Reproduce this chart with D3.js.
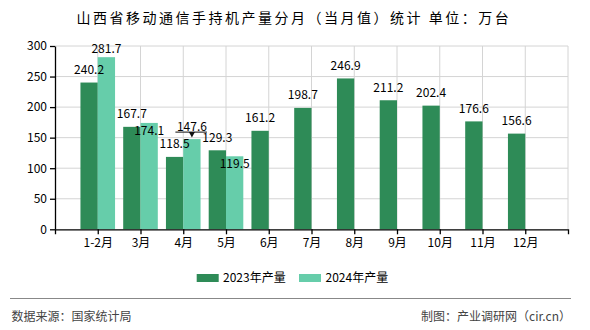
<!DOCTYPE html>
<html><head><meta charset="utf-8">
<script src="https://cdn.jsdelivr.net/npm/d3@7/dist/d3.min.js"></script>
<style>
html,body{margin:0;padding:0;background:#fff;}
svg{display:block;}
text{font-family:"Noto Sans CJK SC","Noto Sans",sans-serif;}
</style></head>
<body>
<svg id="c" width="590" height="330"></svg>
<script>
const title = "山西省移动通信手持机产量分月（当月值）统计 单位：万台";
const categories = ["1-2月","3月","4月","5月","6月","7月","8月","9月","10月","11月","12月"];
const seriesNames = ["2023年产量","2024年产量"];
const values2023 = [240.2,167.7,118.5,129.3,161.2,198.7,246.9,211.2,202.4,176.6,156.6];
const values2024 = [281.7,174.1,147.6,119.5];
const yTicks = [0,50,100,150,200,250,300];
const colors = ["#2E8B57","#66CDAA"];
const sourceText = "数据来源：国家统计局";
const creditText = "制图：产业调研网（cir.cn）";

const svg = d3.select("#c");
const L = 55, R = 568, T = 46, B = 229.3;
const barW = 17.3;

const x = d3.scalePoint().domain(categories).range([L, R]).padding(1);
const y = d3.scaleLinear().domain([0, 300]).range([B, T]);

// title
svg.append("text").attr("x", 76.5).attr("y", 22.5)
  .attr("font-size", 14).attr("letter-spacing", "2.5px").attr("fill", "#000")
  .text(title);

// grid
const g = svg.append("g");
g.selectAll("line.h").data(yTicks.filter(d => d > 0)).join("line")
  .attr("x1", L).attr("x2", R).attr("y1", d => y(d)).attr("y2", d => y(d))
  .attr("stroke", "#d4d4d4").attr("stroke-width", 1);
g.selectAll("line.v").data(categories.map(c => x(c)).concat([R])).join("line")
  .attr("x1", d => d).attr("x2", d => d).attr("y1", T).attr("y2", B)
  .attr("stroke", "#d4d4d4").attr("stroke-width", 1);

// bars
const series = [values2023, values2024];
series.forEach((vals, s) => {
  svg.append("g").selectAll("rect").data(vals).join("rect")
    .attr("x", (d, i) => x(categories[i]) + (s === 0 ? -barW : 0))
    .attr("width", barW)
    .attr("y", d => y(d))
    .attr("height", d => B - y(d))
    .attr("fill", colors[s]);
});

// axes
const yAxis = svg.append("g").attr("transform", `translate(${L},0)`)
  .call(d3.axisLeft(y).tickValues(yTicks).tickSize(5).tickSizeOuter(0).tickPadding(3));
const xAxis = svg.append("g").attr("transform", `translate(0,${B})`)
  .call(d3.axisBottom(x).tickSize(5).tickSizeOuter(5).tickPadding(4));
[yAxis, xAxis].forEach(a => {
  a.selectAll("path,line").attr("stroke", "#000").attr("stroke-width", 1.3);
  a.selectAll("text").attr("font-size", 12).attr("fill", "#000")
    .attr("font-family", '"Noto Sans CJK SC",sans-serif');
});

// value labels (offset: baseline relative to bar top)
function labelOffset(s, i) {
  if (s === 1 && i === 0) return -4.5;   // clamped near top of plot
  if (s === 1 && (i === 1 || i === 3)) return 12; // pushed inside bar
  return -8.5;
}
series.forEach((vals, s) => {
  svg.append("g").selectAll("text").data(vals).join("text")
    .attr("x", (d, i) => x(categories[i]) + (s === 0 ? -barW / 2 : barW / 2))
    .attr("y", (d, i) => y(d) + labelOffset(s, i))
    .attr("text-anchor", "middle").attr("font-size", 12).attr("fill", "#000")
    .text(d => d.toFixed(1));
});

// leader marker for 4月 2024 label
{
  const cx = x(categories[2]) + barW / 2;
  const top = y(values2024[2]);
  svg.append("line").attr("x1", cx - 16.5).attr("x2", cx + 15)
    .attr("y1", top - 7).attr("y2", top - 7).attr("stroke", "#333").attr("stroke-width", 1.2);
  svg.append("path")
    .attr("d", `M${cx - 3},${top - 7}L${cx + 3},${top - 7}L${cx},${top - 1.5}Z`)
    .attr("fill", "#111");
}

// legend
const leg = [{x: 196.7, tx: 223}, {x: 299, tx: 325.5}];
leg.forEach((p, s) => {
  svg.append("rect").attr("x", p.x).attr("y", 274).attr("width", 22).attr("height", 8)
    .attr("fill", colors[s]);
  svg.append("text").attr("x", p.tx).attr("y", 282).attr("font-size", 12).attr("fill", "#000")
    .text(seriesNames[s]);
});

// footer
svg.append("line").attr("x1", 10).attr("x2", 571).attr("y1", 298.5).attr("y2", 298.5)
  .attr("stroke", "#888").attr("stroke-width", 1.2);
svg.append("text").attr("x", 11.5).attr("y", 321).attr("font-size", 12).attr("fill", "#444")
  .text(sourceText);
svg.append("text").attr("x", 571).attr("y", 321).attr("text-anchor", "end")
  .attr("font-size", 12).attr("fill", "#444").text(creditText);
</script>
</body></html>
